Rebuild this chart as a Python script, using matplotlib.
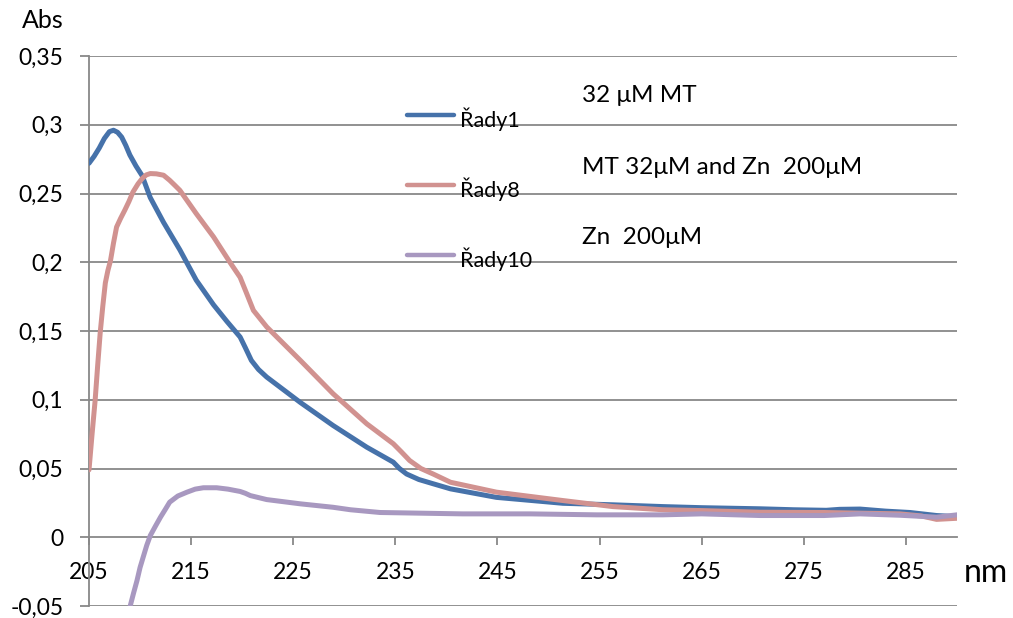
import matplotlib
matplotlib.use("Agg")
import matplotlib.pyplot as plt

# ---- data ----
x_blue = [205.0, 205.5, 206.0, 206.5, 207.0, 207.4, 207.8, 208.2, 208.6, 209.0, 209.6,
          210.2, 211.0, 212.3, 213.9, 215.5, 217.2, 218.5, 219.8, 220.3, 220.9, 221.6,
          222.4, 225.7, 228.9, 232.2, 234.8, 235.4, 236.1, 237.3, 238.7, 240.4,
          244.9, 251.4, 256.3, 261.2, 265.0, 270.7, 274.0, 277.2, 278.5, 280.5, 283.0, 285.4,
          288.0, 290.0]
y_blue = [0.272, 0.277, 0.283, 0.290, 0.2950, 0.2960, 0.2945, 0.291, 0.285, 0.278, 0.270,
          0.263, 0.247, 0.229, 0.209, 0.187, 0.169, 0.157, 0.1456, 0.138, 0.1286, 0.122,
          0.1165, 0.098, 0.0813, 0.0655, 0.0546, 0.050, 0.046, 0.042, 0.0389, 0.0352,
          0.029, 0.0247, 0.0236, 0.0223, 0.0215, 0.0207, 0.0200, 0.0196, 0.0203, 0.0205, 0.0190, 0.018,
          0.0158, 0.015]

x_pink = [205.0, 205.3, 205.6, 205.85, 206.1, 206.35, 206.6, 206.85, 207.1, 207.4, 207.7,
          208.1, 208.5, 208.9, 209.3, 209.8, 210.2, 210.6, 211.0, 211.6, 212.3, 212.9,
          213.4, 213.9, 215.5, 217.2, 218.8, 219.8, 220.4, 221.1, 222.4, 225.7, 228.9,
          232.2, 234.8, 235.6, 236.4, 237.5, 238.7, 240.4, 244.9, 251.4, 256.3, 261.2, 265.0,
          270.7, 277.0, 284.4, 286.5, 288.0, 290.0]
y_pink = [0.049, 0.075, 0.0995, 0.125, 0.149, 0.168, 0.185, 0.194, 0.201, 0.214, 0.2256,
          0.232, 0.2378, 0.244, 0.251, 0.257, 0.2608, 0.2635, 0.2645, 0.2643, 0.2633, 0.2596,
          0.256, 0.2523, 0.2354, 0.2184, 0.200, 0.189, 0.178, 0.165, 0.153, 0.1286, 0.1044,
          0.0825, 0.068, 0.062, 0.0558, 0.050, 0.046, 0.040, 0.0328, 0.0267, 0.0223, 0.020, 0.0194,
          0.0182, 0.018, 0.017, 0.0155, 0.0130, 0.0138]

x_purple = [208.8, 209.0, 209.35, 209.7, 210.0, 210.3, 210.65, 211.0, 211.5, 212.0, 212.45,
            212.9, 213.7, 214.6, 215.4, 216.2, 217.5, 218.6, 219.8, 220.3, 220.8, 222.4,
            225.7, 228.9, 230.6, 233.5, 241.6, 248.2, 254.7, 261.2, 265.0, 270.7, 277.0,
            280.5, 284.4, 288.0, 290.0]
y_purple = [-0.062, -0.051, -0.041, -0.0315, -0.022, -0.0146, -0.006, 0.0012, 0.008, 0.0146, 0.020,
            0.0255, 0.030, 0.0328, 0.035, 0.036, 0.036, 0.035, 0.0333, 0.032, 0.0303, 0.0274,
            0.0243, 0.0218, 0.020, 0.018, 0.017, 0.017, 0.0163, 0.0163, 0.017, 0.0158, 0.0158,
            0.017, 0.016, 0.0146, 0.0163]

series_names = ["Řady1", "Řady8", "Řady10"]
annotations = ["32 μM MT", "MT 32μM and Zn  200μM", "Zn  200μM"]

x_ticks = [205, 215, 225, 235, 245, 255, 265, 275, 285]
y_ticks = [-0.05, 0, 0.05, 0.1, 0.15, 0.2, 0.25, 0.3, 0.35]
y_tick_labels = ["-0,05", "0", "0,05", "0,1", "0,15", "0,2", "0,25", "0,3", "0,35"]

# ---- style ----
plt.rcParams['font.family'] = ['Lato', 'DejaVu Sans']
c_blue = "#4672AA"
c_pink = "#D19290"
c_purple = "#A898C0"
grid_c = "#888888"

fig = plt.figure(figsize=(10.13, 6.18), dpi=100)
ax = fig.add_axes([89/1013, 1-606/618, (957-89)/1013, (606-56)/618])

lw = 3.6
for xs, ys, cc in [(x_blue, y_blue, c_blue), (x_pink, y_pink, c_pink), (x_purple, y_purple, c_purple)]:
    ax.plot(xs, ys, color=cc, lw=lw, solid_capstyle='round', solid_joinstyle='round', zorder=3)

ax.set_xlim(205, 290)
ax.set_ylim(-0.05, 0.35)

for yv in y_ticks:
    if yv != 0:
        ax.axhline(yv, color=grid_c, lw=1.3, zorder=1)

for s in ['top', 'right']:
    ax.spines[s].set_visible(False)
ax.spines['bottom'].set_position(('data', 0))
ax.spines['bottom'].set_color(grid_c)
ax.spines['bottom'].set_linewidth(1.3)
ax.spines['left'].set_color(grid_c)
ax.spines['left'].set_linewidth(1.3)

ax.set_xticks(x_ticks)
ax.set_xticklabels([str(v) for v in x_ticks])
ax.set_yticks(y_ticks)
ax.set_yticklabels(y_tick_labels)
ax.tick_params(axis='x', direction='out', length=6, width=1.3, color=grid_c, pad=12, labelsize=16.5)
ax.tick_params(axis='y', direction='out', length=6.5, width=1.3, color=grid_c, pad=12, labelsize=16.5)

# axis titles
fig.text(43/1013, 1-20/618, "Abs", ha='center', va='center', fontsize=18)
fig.text(986/1013, 1-573/618, "nm", ha='center', va='center', fontsize=23)

# legend (manual, drawn in figure coordinates)
leg_y = [115, 185, 255]
leg_colors = [c_blue, c_pink, c_purple]
for name, yy, cc in zip(series_names, leg_y, leg_colors):
    fig.add_artist(plt.Line2D([407/1013, 454/1013], [1-yy/618, 1-yy/618], color=cc, lw=3.2,
                              solid_capstyle='round'))
    fig.text(460/1013, 1-(yy+4)/618, name, ha='left', va='center', fontsize=15.5)

ann_y = [96, 167, 237]
for t, yy in zip(annotations, ann_y):
    fig.text(582/1013, 1-yy/618, t, ha='left', va='center', fontsize=17.5)

fig.savefig("out.png", dpi=100)
